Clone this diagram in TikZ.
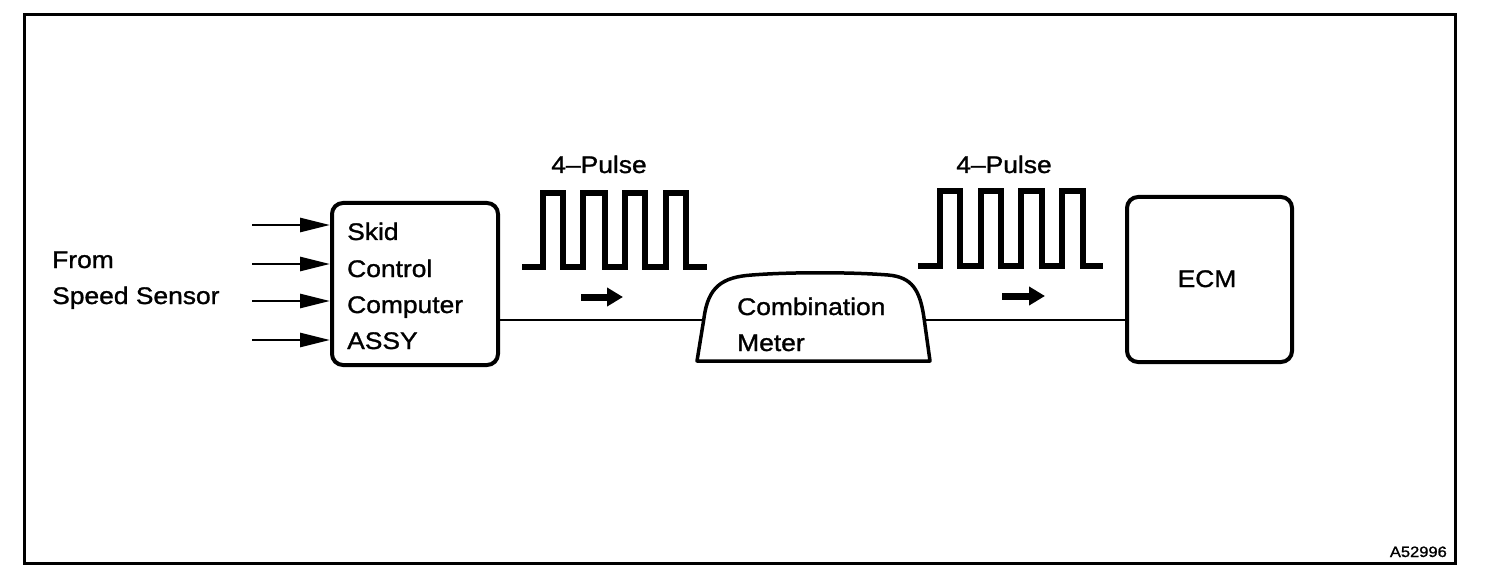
\documentclass[tikz,border=0pt]{standalone}
\usepackage{fontspec}
\setmainfont[FakeStretch=1.1,FakeBold=1.2]{Liberation Sans}
\usetikzlibrary{arrows.meta}
\begin{document}
\begin{tikzpicture}[x=1pt,y=-1pt,
  frame/.style={line width=3pt},
  box/.style={draw, line width=4pt, rounded corners=11pt, inner sep=0pt},
  wire/.style={line width=2.8pt},
  inarrow/.style={line width=2.8pt, -{Triangle[length=30pt,width=14pt]}},
  pulse/.style={line width=6pt, line join=miter},
  flow/.style={line width=7pt, -{Triangle[length=16pt,width=18pt]}},
  lbl/.style={font=\fontsize{24}{29}\selectfont, inner sep=0pt, anchor=base west},
  meterline/.style={line width=3.5pt, line join=round}]
\useasboundingbox (0,0) rectangle (1504,580);
\draw[frame] (24,15) rectangle (1455,563);

% Skid Control Computer box
\node[box, minimum width=166pt, minimum height=162pt] (skid) at (415,284) {};
\node[lbl] (s1) at (347,240) {Skid};
\node[lbl] (s2) at (347,277) {Control};
\node[lbl] (s3) at (347,313) {Computer};
\node[lbl] (s4) at (347,349) {ASSY};

% From speed sensor
\node[lbl] (from1) at (52,268) {From};
\node[lbl] (from2) at (52,304) {Speed Sensor};
\coordinate (in1) at (252,225);
\coordinate (in2) at (252,264);
\coordinate (in3) at (252,301);
\coordinate (in4) at (252,340);
\foreach \i in {1,2,3,4} {\draw[inarrow] (in\i) -- (in\i -| skid.west);}

% Combination meter
\draw[meterline] (697,361) -- (704,318) .. controls (708,287) and (722,277) .. (752,275)
  .. controls (790,272) and (850,272) .. (888,275)
  .. controls (912,277) and (920,290) .. (924,318) -- (930,361) -- cycle;
\coordinate (meterL) at (703.7,320);
\coordinate (meterR) at (924.3,320);
\node[lbl] (m1) at (737,315) {Combination};
\node[lbl] (m2) at (737,351) {Meter};

% ECM
\node[box, minimum width=165pt, minimum height=165pt] (ecm) at (1209.5,279.5) {};
\node[lbl, anchor=base] (ecmtxt) at (1207,287) {ECM};

% wires
\draw[wire] (skid.east |- meterL) -- (meterL);
\draw[wire] (meterR) -- (meterR -| ecm.west);

% pulses
\draw[pulse] (522,267) -- (543,267) -- (543,193) -- (563,193) -- (563,267) -- (583,267)
  -- (583,193) -- (605,193) -- (605,267) -- (625,267) -- (625,193) -- (645,193)
  -- (645,267) -- (666,267) -- (666,193) -- (686,193) -- (686,267) -- (707,267);
\draw[pulse] (918,266) -- (940,266) -- (940,191) -- (960,191) -- (960,266) -- (981,266)
  -- (981,191) -- (1001,191) -- (1001,266) -- (1021,266) -- (1021,191) -- (1042,191)
  -- (1042,266) -- (1062,266) -- (1062,191) -- (1083,191) -- (1083,266) -- (1103,266);
\node[lbl, anchor=base] (p1) at (599,173) {4–Pulse};
\node[lbl, anchor=base] (p2) at (1004,173) {4–Pulse};

% flow arrows
\coordinate (f1s) at (581,297);
\coordinate (f1e) at (623,297);
\coordinate (f2s) at (1002,296);
\coordinate (f2e) at (1045,296);
\draw[flow] (f1s) -- (f1e);
\draw[flow] (f2s) -- (f2e);

\node[font=\fontsize{15}{18}\selectfont, inner sep=0pt, anchor=base east] (code) at (1447,557) {A52996};
\end{tikzpicture}
\end{document}
